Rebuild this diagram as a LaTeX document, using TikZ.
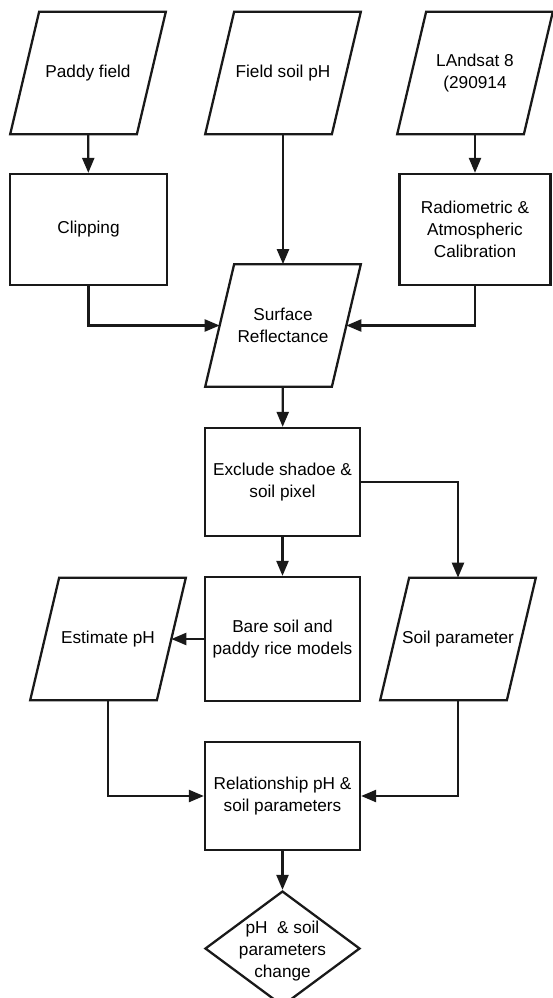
\documentclass[tikz,border=0pt]{standalone}
\usepackage{fontspec}
\setmainfont{Liberation Sans}
\usepackage{tikz}
\usetikzlibrary{arrows.meta,positioning,shapes.geometric,calc}
\usepackage{xcolor}
\definecolor{lineblack}{RGB}{25,25,25}
\tikzset{
  pbox/.style={draw=lineblack,rectangle,minimum width=3.1cm,minimum height=2.16cm,
    align=center,inner sep=2pt,font=\fontsize{9.8}{12.4}\selectfont,line width=1.3pt,fill=white},
  pdata/.style={rectangle,minimum width=2.52cm,minimum height=2.44cm,align=center,inner sep=2pt,
    font=\fontsize{9.8}{12.4}\selectfont,
    append after command={\pgfextra{\draw[draw=lineblack,line width=1.3pt,line join=miter]
      ($(\tikzlastnode.north west)+(0.29cm,0)$) -- ($(\tikzlastnode.north east)+(0.29cm,0)$)
      -- ($(\tikzlastnode.south east)-(0.29cm,0)$) -- ($(\tikzlastnode.south west)-(0.29cm,0)$) -- cycle;}}},
  pdecide/.style={pbox,diamond,minimum width=3.1cm,minimum height=2.3cm,inner sep=0pt},
  ptext/.style={align=center,inner sep=0pt,font=\fontsize{9.8}{12.4}\selectfont},
  flow/.style={-{Triangle[length=3mm,width=2.4mm]},line width=1.3pt,draw=lineblack}
}
\begin{document}
\begin{tikzpicture}[x=0.02cm,y=-0.02cm]
  \useasboundingbox (0,0) rectangle (552,998);
  % inputs
  \node[pdata] (paddy) at (88,73) {Paddy field};
  \node[pdata] (fieldph) at (283,73) {Field soil pH};
  \node[pdata] (landsat) at (475,73) {LAndsat 8\\(290914};
  % preprocessing
  \node[pbox,minimum width=3.14cm,minimum height=2.22cm] (clip) at (88.5,229.5) {Clipping};
  \node[pbox,minimum width=3.02cm,minimum height=2.22cm] (radio) at (475,229.5) {Radiometric \&\\Atmospheric\\Calibration};
  \node[pdata] (surf) at (283,325.5) {Surface\\Reflectance};
  \node[pbox] (excl) at (282.5,482) {Exclude shadoe \&\\soil pixel};
  % models
  \node[pbox,minimum height=2.48cm] (bare) at (282.5,639) {Bare soil and\\paddy rice models};
  \node[pdata] (est) at (108,639) {Estimate pH};
  \node[pdata] (soilp) at (458,639) {Soil parameter};
  \node[pbox] (rel) at (282.5,796) {Relationship pH \&\\soil parameters};
  \node[pdecide] (change) at (282.5,948.5) {};
  \node[ptext] (changetxt) at (282.5,951) {pH~~\& soil\\parameters\\change};

  \draw[flow] (paddy) -- (clip);
  \draw[flow] (landsat) -- (radio);
  \draw[flow] (fieldph) -- (surf);
  \draw[flow] (clip.south) |- (surf.west);
  \draw[flow] (radio.south) |- (surf.east);
  \draw[flow] (surf) -- (excl);
  \draw[flow] (excl) -- (bare);
  \draw[flow] (excl.east) -| (soilp.north);
  \draw[flow] (bare) -- (est);
  \draw[flow] (est.south) |- (rel.west);
  \draw[flow] (soilp.south) |- (rel.east);
  \draw[flow] (rel) -- (change);
\end{tikzpicture}
\end{document}
